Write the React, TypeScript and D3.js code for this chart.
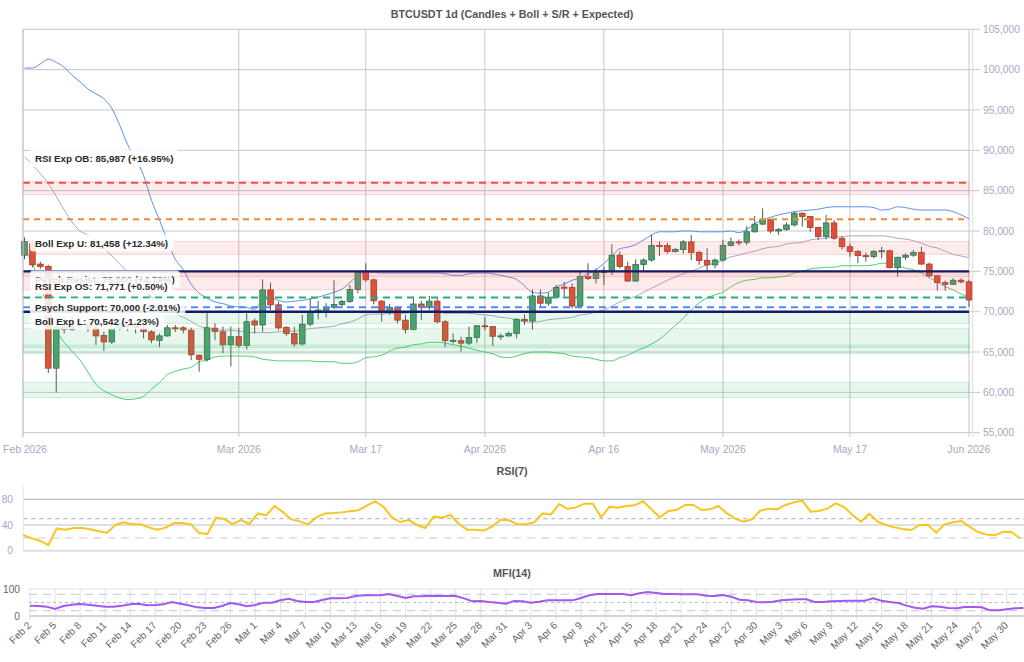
import React, { useLayoutEffect, useRef, useState } from 'react';
import * as d3 from 'd3';

// ---------- DATA ----------
const START = new Date(2026, 1, 2);
const N = 120;
const dates: Date[] = d3.timeDay.range(START, d3.timeDay.offset(START, N));

const open = [77000,78400,75900,75600,63000,68100,67800,68300,68400,67950,67050,66250,67900,68500,68100,67900,67500,66450,67000,68000,68000,67700,64600,64100,67950,67500,65900,66900,65800,68850,68350,72700,70850,68050,67300,66000,68450,70000,70200,70550,70900,71250,72750,74950,73950,71300,70000,70550,68950,67800,70950,70550,71300,68750,66400,66400,66100,66800,68250,68150,66950,67000,67300,69050,68850,71950,71050,71800,73050,73000,70700,74350,74100,74850,75100,77000,75600,73800,75850,76400,78200,78200,77450,77700,78650,77350,76350,75800,76400,78200,78650,78600,79900,80850,81450,80000,80200,80750,82200,81800,80450,79300,81000,79100,78050,77450,76950,76850,77450,77550,75450,76750,77000,77350,75900,74450,73600,73400,73900,73700];
const high = [79200,78900,76200,75800,68500,69300,71000,69200,68900,68700,67500,68500,69000,68800,68700,68300,67700,67300,68350,68350,68200,68000,64700,69900,68550,68150,68150,68000,69800,69150,74000,73600,71250,68200,68150,69600,71650,71350,71050,73900,71450,73300,75000,76000,74100,71450,70950,70700,69600,71850,71350,71950,71650,68950,67300,66900,68150,68350,69300,68150,67300,67500,69200,69650,72750,72750,72400,73300,73700,73500,74950,76000,75350,75600,78350,77450,76200,76500,76600,79500,78700,78550,77900,78900,79500,77550,77850,76600,78900,79200,78950,80600,81850,82800,81500,80350,81050,82400,82300,81800,80550,82000,81350,79300,78450,77650,77300,77650,78050,77650,76800,77250,77650,78050,76100,74550,73850,74150,74150,73950];
const low = [76500,75500,75300,62400,60000,67300,67600,67900,67500,65900,65150,66000,67700,67600,67300,66700,66100,65600,66900,67500,67300,64000,62550,63800,66500,64850,63200,65500,65300,67300,67500,70200,67700,67000,65650,65800,68150,69050,69300,70300,70400,71100,72300,73700,70900,68750,69600,68550,67300,67700,68950,70200,68550,65600,66050,65050,65850,66100,67700,65750,66500,66900,66700,68350,67750,70600,70700,71650,71850,70400,70400,73900,73500,73300,74550,75350,73700,73700,74950,76200,76900,77200,77350,77200,76400,75800,75100,75350,76200,78100,78200,78250,79800,80750,79700,79500,80050,80550,80550,79900,78900,78950,78900,77700,76800,76050,76200,76600,76600,75350,74350,76400,76800,75800,74250,72600,72600,73300,73500,70600];
const close = [78700,75800,75600,63000,68100,67800,68300,68400,67950,67000,66250,67900,68500,68100,68150,67550,66500,67000,68000,67950,67750,64650,64100,68000,67550,65900,66900,65800,68750,68350,72700,70850,68000,67300,66000,68450,70000,70200,70550,70900,71250,72750,74950,73950,71350,70000,70550,68950,67800,70950,70550,71300,68750,66400,66450,66100,66800,68250,68150,66950,67000,67300,69050,68850,71950,71050,71800,73000,72900,70700,74350,74100,74850,75100,77000,75600,73800,75850,76400,78200,78150,77450,77700,78650,77350,76350,75800,76400,78200,78650,78600,79900,80850,81450,80000,80200,80750,82200,81800,80450,79300,81000,79100,78050,77450,76950,76850,77450,77550,75450,76750,77000,77350,75900,74450,73600,73400,73900,73700,71450];

const bbUpper = [100200,100200,100700,101300,100900,100300,99300,98500,97600,97000,96400,95200,93100,90700,89000,86900,83800,81400,78800,76500,75200,73400,72300,71700,71200,71000,70700,70600,70500,70300,71400,71700,71400,71200,71300,71400,71600,71800,72100,72400,72800,73600,74500,74900,74900,74800,74800,74800,74800,74800,74800,74800,74800,74700,74500,74500,74700,74800,74800,74700,74500,74300,74000,73200,72400,72300,72400,73100,73400,73900,74200,74700,75200,76000,76900,77800,78000,78300,78900,79500,79900,79900,79900,80000,80000,79900,79900,79900,79900,80000,79800,80200,80900,81400,81700,82000,82200,82400,82500,82600,82700,82900,83000,83000,83000,83000,83000,82900,82600,82700,83000,82900,82700,82600,82600,82600,82600,82400,82000,81500];
const bbMid = [89200,88200,87100,85900,84300,82600,81100,80000,79500,78900,77900,76900,75900,74900,73900,72800,71800,71000,70200,69700,69300,68800,68200,68000,67700,67700,67700,67600,67500,67400,67400,67400,67500,67600,67600,67700,67900,68000,68100,68200,68500,68700,69100,69600,69700,69700,69800,69800,69800,70000,70000,70000,70000,69800,69800,69800,69800,69700,69600,69500,69300,69200,69000,68800,68700,68800,69000,69100,69200,69300,69600,69700,70000,70200,70700,71200,71600,71900,72400,72900,73400,73900,74300,74700,75000,75400,75800,76000,76400,76800,77000,77300,77500,77800,78000,78100,78400,78500,78600,78900,79000,79100,79300,79300,79400,79400,79400,79400,79400,79300,79100,79000,78800,78500,78100,77900,77500,77100,76900,76700];
const bbLower = [77900,75900,73300,70200,67700,66200,65100,64000,62500,61000,60200,59700,59300,59100,59200,59500,60400,61200,62200,62600,62900,63100,63800,64000,64400,64500,64500,64500,64500,64400,64100,64000,63900,63900,63900,63900,63900,63800,63800,63800,63600,63600,63800,64300,64400,64600,65100,65500,65600,65900,66000,66200,66200,66100,65900,65700,65500,65200,65000,64800,64400,64300,64500,64800,65000,65000,65000,64900,64800,64500,64400,64300,64100,63900,63900,64300,64600,65100,65500,66000,66600,67400,68300,69200,70200,71100,71700,72100,72400,73100,73600,73900,74000,74200,74200,74300,74400,74800,75000,75300,75400,75500,75500,75700,75700,75700,75700,75800,76000,76000,75700,75400,75200,74800,74200,73700,73100,72700,72200,71800];

const rsi = [24.4,19.2,15.6,8.8,34.7,32.7,35.3,35.3,33.2,30.1,28,40,44,41,41,36.3,32.7,35.8,43,43,41,27.5,26,51.3,49.2,41.5,47.7,41.5,58,55,69.5,60,48.7,45.6,41,51.8,58,58.6,59.6,61.2,62.7,70,76.7,68.4,51.8,44.6,47.7,40,35.3,52.9,51.3,55.5,41.5,32.7,32.7,31.6,37.8,48.2,47.2,41,41,44,58,56.5,72.6,64.8,67.4,73.1,73.1,51.9,68.5,66.9,69.5,70.6,76.8,64.3,51.9,61.7,63.3,71.1,71.1,63.3,64.3,69.5,58.1,49.8,45.2,48.8,62.3,65.4,64.3,71.1,75.2,77.8,60.7,61.7,65.4,73.7,68,55.5,45.2,57.6,45.2,40,36.3,33.7,32.2,40,40.5,28,41,44.1,46.2,36.9,29.1,25,23.9,29.6,28.6,19.3];
const mfi = [38.3,37,34.6,25.9,37,42,44.4,42,38.3,34.6,34.6,38.3,43.2,45.7,39.5,40.7,43.2,51.9,45.7,39.5,32,29.6,29.6,37,48,43.2,35.8,40.7,49.4,49.4,58,64.2,55.6,51.9,51.9,59.3,65.4,65.4,66.7,74,76.5,76.5,76.5,81.5,74,66.7,72.8,72.8,75.3,74,74,74,65.4,54.3,55.6,51.9,49.4,45.7,55.6,54.3,49.4,53,58,58,58,58,66.7,76.5,81.5,81.5,81.5,81.5,76.5,84,88.9,85.2,81.5,81.5,80.2,80.2,80.2,75.3,74,77.8,71.6,60.5,58,51.9,50.6,53,58,60.5,61.7,61.7,51.9,51.9,54.3,55.6,56.8,56.8,56.8,65.4,56.8,51.9,48.1,38.3,30.9,27.2,35.8,34.6,29.6,28.4,33.3,33.3,32.1,21,21,24.7,28.4,29.6];

const priceTicks = [55000,60000,65000,70000,75000,80000,85000,90000,95000,100000,105000];
const rsiTicks = [0,40,80];
const mfiTicks = [0,100];

const levelNames = ['RSI Exp OB','Boll Exp U','Psych Resist','RSI Exp OS','Psych Support','Boll Exp L'];
const levelValues = [85987,81458,75000,71771,70000,70542];
const levelPct = ['+16.95%','+12.34%','+4.79%','+0.50%','-2.01%','-1.23%'];

const resistZones = [[84500,86100],[77100,78700],[72700,75000],[74350,75000]];
const supportZones = [[68550,70000],[64800,67950],[65550,65850],[59350,61250]];

// ---------- STYLE ----------
const levelStyle = [
  { color: '#f0504c', width: 2, dash: '7,5' },
  { color: '#f2883a', width: 2, dash: '6,5' },
  { color: '#14196b', width: 2.4, dash: '' },
  { color: '#22b07a', width: 2, dash: '7,5' },
  { color: '#14196b', width: 2.4, dash: '' },
  { color: '#4a8cf2', width: 2, dash: '7,5' },
];
const labelY = [158, 243, 279, 286, 307, 321];
const FONT = 'Liberation Sans, Arial, Helvetica, sans-serif';
const UP_FILL = '#4f9e72', UP_LINE = '#2f6e4b';
const DN_FILL = '#dd5039', DN_LINE = '#a83a28';

export default function App() {
  const x = d3.scaleTime().domain([dates[0], dates[N - 1]]).range([24.5, 969]);
  const y = d3.scaleLinear().domain([55000, 105000]).range([432.7, 29.3]);
  const L = 23, R = 969, T = 29.3;

  const xR = d3.scaleLinear().domain([0, N - 1]).range([23.3, 1020]);
  const yR = d3.scaleLinear().domain([0, 100]).range([550.7, 486.4]);
  const xM = d3.scaleLinear().domain([0, N - 1]).range([30, 1023.4]);
  const yM = d3.scaleLinear().domain([0, 100]).range([616, 589]);

  const textRefs = useRef<(SVGTextElement | null)[]>([]);
  const [widths, setWidths] = useState<number[]>(levelNames.map(() => 130));
  useLayoutEffect(() => {
    const w = textRefs.current.map((t) => (t ? t.getComputedTextLength() : 130));
    setWidths(w);
  }, []);

  const band = (arr: number[]) =>
    d3.line<number>().x((_, i) => x(dates[i])).y((v) => y(v)).curve(d3.curveMonotoneX)(arr) || '';
  const rsiPath = d3.line<number>().x((_, i) => xR(i)).y((v) => yR(v))(rsi) || '';
  const mfiPath = d3.line<number>().x((_, i) => xM(i)).y((v) => yM(v))(mfi) || '';

  const dateTicks: { d: Date; label: string; pos?: number }[] = [
    { d: dates[0], label: 'Feb 2026', pos: L },
    { d: new Date(2026, 2, 1), label: 'Mar 2026' },
    { d: new Date(2026, 2, 17), label: 'Mar 17' },
    { d: new Date(2026, 3, 1), label: 'Apr 2026' },
    { d: new Date(2026, 3, 16), label: 'Apr 16' },
    { d: new Date(2026, 4, 1), label: 'May 2026' },
    { d: new Date(2026, 4, 17), label: 'May 17' },
    { d: new Date(2026, 5, 1), label: 'Jun 2026' },
  ];
  const fmt = d3.format(',');
  const mfiFmt = d3.timeFormat('%b %-d');
  const bw = 5.6;

  return (
    <svg width={1024} height={662} style={{ position: 'absolute', left: 0, top: 0, background: '#fff' }} fontFamily={FONT}>
      <rect x={0} y={0} width={1024} height={662} fill="#fff" />
      <text x={512} y={18} textAnchor="middle" fontSize={10.8} fontWeight="bold" fill="#555">
        BTCUSDT 1d (Candles + Boll + S/R + Expected)
      </text>

      {priceTicks.map((t) => (
        <g key={t}>
          <line x1={L} x2={980} y1={y(t)} y2={y(t)} stroke="#c6c6ce" strokeWidth={1} />
          <text x={983} y={y(t) + 3.6} fontSize={10.2} fill="#a3aac2">{fmt(t)}</text>
        </g>
      ))}
      {dateTicks.map((t) => {
        const px = t.pos ?? x(t.d);
        return (
          <g key={t.label}>
            <line x1={px} x2={px} y1={T} y2={437} stroke="#c6c6ce" strokeWidth={1} />
            <text x={px + (t.pos ? 2 : 0)} y={452.5} textAnchor="middle" fontSize={10.4} fill="#a3aac2">{t.label}</text>
          </g>
        );
      })}
      <line x1={972.7} x2={972.7} y1={T} y2={437} stroke="#dcdce2" strokeWidth={1} />

      <path d={band(bbUpper)} fill="none" stroke="#5b8ff0" strokeWidth={1} />
      <path d={band(bbMid)} fill="none" stroke="#aaa6c4" strokeWidth={1} />
      <path d={band(bbLower)} fill="none" stroke="#4fcf6f" strokeWidth={1} />

      {dates.map((d, i) => {
        const up = close[i] >= open[i];
        const cx = x(d);
        const top = y(Math.max(open[i], close[i]));
        const bot = y(Math.min(open[i], close[i]));
        return (
          <g key={i}>
            <line x1={cx} x2={cx} y1={y(high[i])} y2={y(low[i])} stroke="#555" strokeWidth={1} />
            <rect x={cx - bw / 2} y={top} width={bw} height={Math.max(1, bot - top)}
              fill={up ? UP_FILL : DN_FILL} stroke={up ? UP_LINE : DN_LINE} strokeWidth={0.8} />
          </g>
        );
      })}

      {resistZones.map(([a, b], i) => (
        <rect key={'r' + i} x={L} width={R - L} y={y(b)} height={y(a) - y(b)}
          fill="rgba(240,90,90,0.12)" stroke="rgba(240,90,90,0.22)" strokeWidth={1} />
      ))}
      {supportZones.map(([a, b], i) => (
        <rect key={'s' + i} x={L} width={R - L} y={y(b)} height={y(a) - y(b)}
          fill="rgba(60,190,110,0.12)" stroke="rgba(60,190,110,0.22)" strokeWidth={1} />
      ))}

      {levelValues.map((v, i) => (
        <line key={'l' + i} x1={L} x2={R} y1={y(v)} y2={y(v)} stroke={levelStyle[i].color}
          strokeWidth={levelStyle[i].width} strokeDasharray={levelStyle[i].dash || undefined} />
      ))}
      <line x1={L} x2={L} y1={T} y2={437} stroke="#c6c6ce" strokeWidth={1} />

      {levelNames.map((n, i) => {
        const txt = `${n}: ${fmt(levelValues[i])} (${levelPct[i]})`;
        return (
          <g key={'t' + i}>
            <rect x={30} y={labelY[i] - 8.5} width={widths[i] + 10} height={17} rx={3} fill="rgba(255,255,255,0.85)" />
            <text ref={(el) => { textRefs.current[i] = el; }} x={35} y={labelY[i] + 3.6}
              fontSize={9.8} fontWeight="bold" fill="#2a2a2a">{txt}</text>
          </g>
        );
      })}

      <text x={512} y={475} textAnchor="middle" fontSize={10.8} fontWeight="bold" fill="#555">RSI(7)</text>
      {rsiTicks.map((t) => (
        <g key={'rt' + t}>
          <line x1={23.3} x2={1024} y1={yR(t)} y2={yR(t)} stroke={t === 80 ? '#a9adbd' : '#dedee3'} strokeWidth={t === 80 ? 1 : 2} />
          <text x={13} y={yR(t) + 3.6} textAnchor="end" fontSize={10.2} fill="#a3aac2">{t}</text>
        </g>
      ))}
      <line x1={23.3} x2={1024} y1={yR(50)} y2={yR(50)} stroke="#b6bacb" strokeWidth={1.3} strokeDasharray="4,4" />
      <line x1={23.3} x2={1024} y1={yR(20)} y2={yR(20)} stroke="#d3d5de" strokeWidth={1.3} strokeDasharray="8,6" />
      <line x1={23.3} x2={23.3} y1={486} y2={551} stroke="#e4e4ea" strokeWidth={1} />
      <path d={rsiPath} fill="none" stroke="#f7c51e" strokeWidth={2} />

      <text x={512} y={577} textAnchor="middle" fontSize={10.8} fontWeight="bold" fill="#555">MFI(14)</text>
      {dates.map((d, i) => (i % 3 === 0 ? (
        <g key={'mx' + i}>
          <line x1={xM(i)} x2={xM(i)} y1={589} y2={620} stroke="#dfe1e8" strokeWidth={1} />
          <text transform={`translate(${xM(i) + 2},${626}) rotate(-45)`} textAnchor="end" fontSize={10.2} fill="#666">{mfiFmt(d)}</text>
        </g>
      ) : null))}
      {mfiTicks.map((t) => (
        <g key={'mt' + t}>
          <line x1={29} x2={1024} y1={yM(t)} y2={yM(t)} stroke={t === 0 ? '#d3d3d8' : '#e2e2e8'} strokeWidth={t === 0 ? 2 : 1} />
          <text x={20} y={yM(t) + 3.6} textAnchor="end" fontSize={10.2} fill="#666">{t}</text>
        </g>
      ))}
      <line x1={29} x2={1024} y1={yM(80)} y2={yM(80)} stroke="#cdd1dc" strokeWidth={1.2} strokeDasharray="8,6" />
      <line x1={29} x2={1024} y1={yM(50)} y2={yM(50)} stroke="#b6bacb" strokeWidth={1.2} strokeDasharray="3,3" />
      <line x1={29} x2={1024} y1={yM(20)} y2={yM(20)} stroke="#cdd1dc" strokeWidth={1.2} strokeDasharray="8,6" />
      <path d={mfiPath} fill="none" stroke="#a655f5" strokeWidth={2} />
    </svg>
  );
}
